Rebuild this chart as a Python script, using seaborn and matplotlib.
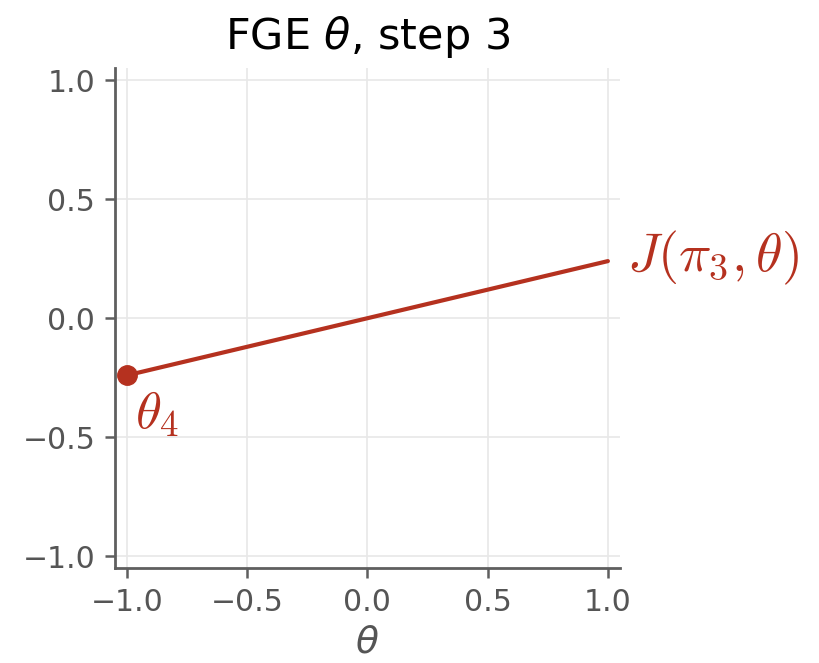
import matplotlib
matplotlib.use("Agg")
import matplotlib.pyplot as plt
import seaborn as sns
import pandas as pd
import numpy as np

theta = [-1.0, 1.0]
J_vals = [-0.24, 0.24]
point_x = [-1.0]
point_y = [-0.24]
ticks = [-1.0, -0.5, 0.0, 0.5, 1.0]

sns.set_theme(style="whitegrid")
plt.rcParams['font.family'] = ['DejaVu Sans']
plt.rcParams['mathtext.fontset'] = 'dejavusans'

red = "#b5311f"
gray = "#5f5f5f"

fig = plt.figure(figsize=(8.2, 6.63), dpi=100)
ax = fig.add_axes([0.140, 0.143, 0.616, 0.754])

df = pd.DataFrame({"theta": theta, "J": J_vals})
sns.lineplot(data=df, x="theta", y="J", color=red, lw=3, ax=ax)
ax.plot(point_x, point_y, 'o', color=red, markersize=14, zorder=5, clip_on=False)

ax.set_xlim(-1.05, 1.05)
ax.set_ylim(-1.05, 1.05)
ax.set_xticks(ticks)
ax.set_yticks(ticks)
ax.grid(True, color="#e8e8e8", lw=1.2)
ax.set_facecolor("white")
for s in ["top", "right"]:
    ax.spines[s].set_visible(False)
for s in ["left", "bottom"]:
    ax.spines[s].set_color(gray)
    ax.spines[s].set_linewidth(2)
ax.tick_params(axis="both", colors=gray, labelsize=21.5, length=7, width=1.8, direction="out",
               bottom=True, left=True, labelcolor="#555555", pad=7)
ax.set_xlabel(r"$\theta$", fontsize=27, color="#555555", labelpad=6)
ax.set_ylabel("")
ax.set_title(r"FGE $\theta$, step 3", fontsize=31, color="black", pad=14)

ax.annotate(r"$J(\pi_3, \theta)$", xy=(theta[-1], J_vals[-1]), xytext=(14, 2),
            textcoords="offset points", color=red, fontsize=39, va="center", ha="left",
            annotation_clip=False, math_fontfamily='cm')
ax.annotate(r"$\theta_4$", xy=(point_x[0], point_y[0]), xytext=(6, -27),
            textcoords="offset points", color=red, fontsize=38, va="center", ha="left",
            math_fontfamily='cm')

fig.savefig("out.png", dpi=100, facecolor="white")
